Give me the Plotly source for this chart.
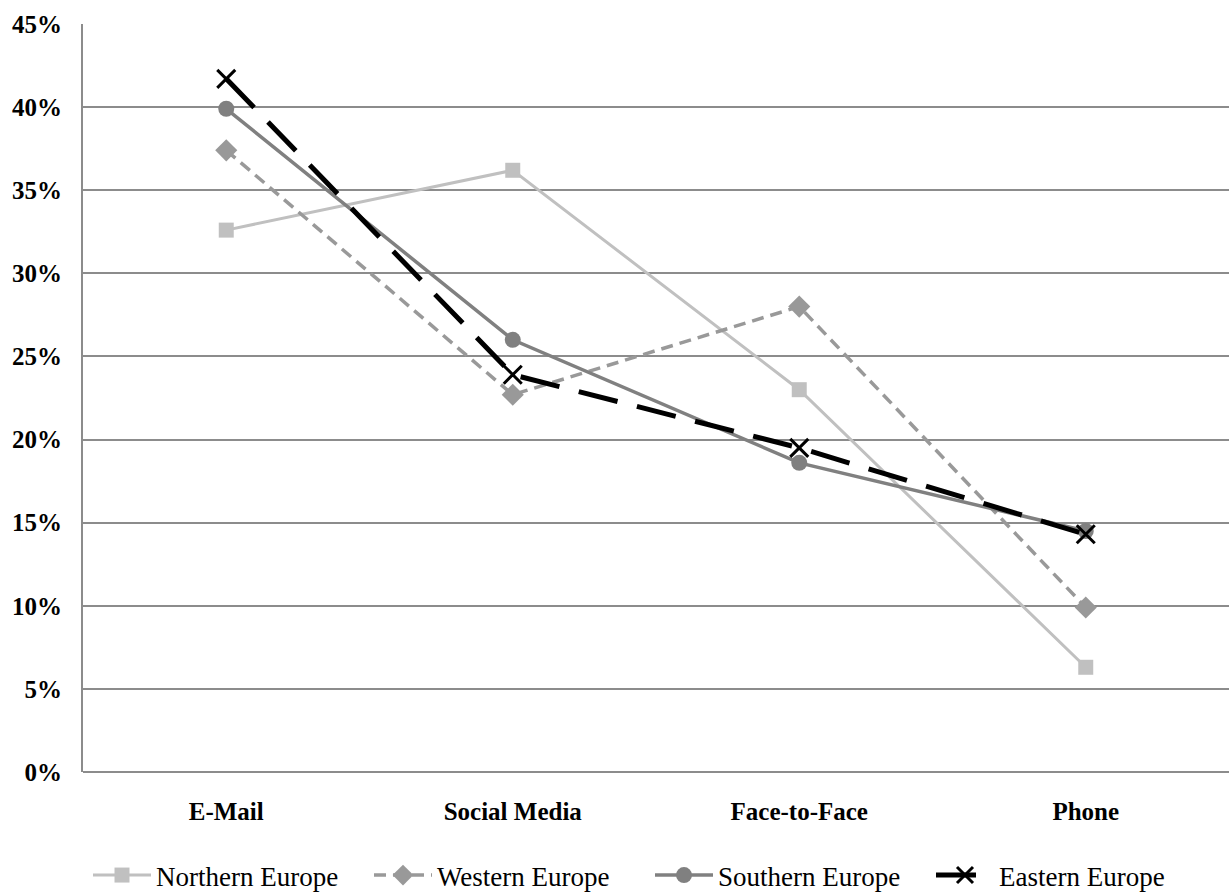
import plotly.graph_objects as go

categories = ["E-Mail", "Social Media", "Face-to-Face", "Phone"]
northern = [32.6, 36.2, 23.0, 6.3]
western = [37.4, 22.7, 28.0, 9.9]
southern = [39.9, 26.0, 18.6, 14.5]
eastern = [41.7, 23.9, 19.5, 14.3]
y_ticks = [0, 5, 10, 15, 20, 25, 30, 35, 40, 45]
y_labels = [f"{v}%" for v in y_ticks]

series = [
    ("Northern Europe", northern, dict(color="#c0c0c0", width=3, dash="solid"), dict(symbol="square", size=15, color="#c0c0c0")),
    ("Western Europe", western, dict(color="#999999", width=3.5, dash="12px,7px"), dict(symbol="diamond", size=17, color="#999999")),
    ("Southern Europe", southern, dict(color="#808080", width=3.5, dash="solid"), dict(symbol="circle", size=16, color="#808080")),
    ("Eastern Europe", eastern, dict(color="#000000", width=5, dash="40px,20px"), dict(symbol="x-thin", size=18, color="#000000", line=dict(width=3, color="#000000"))),
]

fig = go.Figure()
for name, vals, line, marker in series:
    fig.add_trace(go.Scatter(x=categories, y=vals, mode="lines+markers", name=name,
                             line=line, marker=marker))

fig.update_layout(
    width=1229, height=892,
    margin=dict(l=83, r=0, t=24, b=120),
    paper_bgcolor="white", plot_bgcolor="white",
    font=dict(family="Liberation Serif", color="black"),
    showlegend=True,
    legend=dict(orientation="h", xref="container", x=88/1229, xanchor="left",
                yref="container", y=(892 - 851) / 892, yanchor="top",
                font=dict(size=27, family="Liberation Serif", color="black"),
                itemwidth=58, entrywidth=208, entrywidthmode="pixels", tracegroupgap=0),
)
fig.update_xaxes(range=[-0.5, 3.5], showgrid=False, showline=False, zeroline=False,
                 ticks="", tickfont=dict(size=25, family="Liberation Serif", weight="bold"),
                 ticklabelstandoff=22)
fig.update_yaxes(range=[0, 45], tickvals=y_ticks, ticktext=y_labels,
                 showgrid=True, gridcolor="#8c8c8c", gridwidth=2,
                 showline=True, linecolor="#8c8c8c", linewidth=2,
                 zeroline=True, zerolinecolor="#8c8c8c", zerolinewidth=2,
                 ticks="", tickfont=dict(size=25, family="Liberation Serif", weight="bold"),
                 ticklabelstandoff=14)

fig.write_html("out.html")
